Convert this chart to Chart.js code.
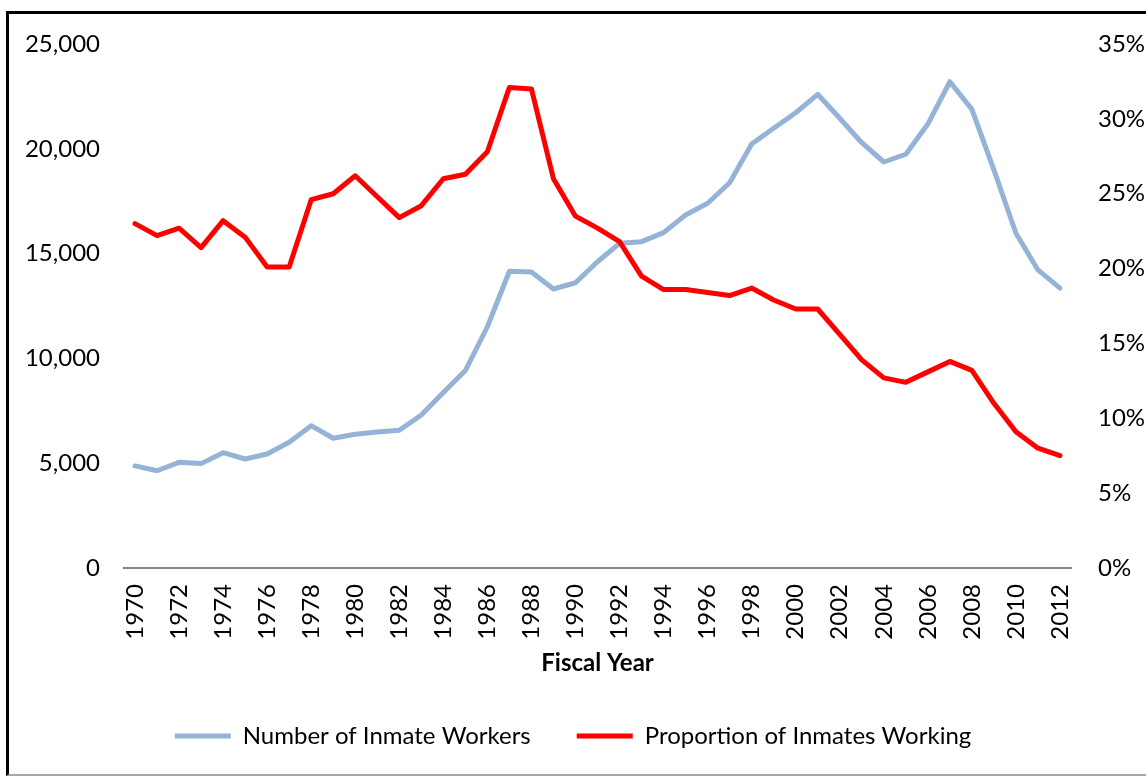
<!DOCTYPE html>
<html>
<head>
<meta charset="utf-8">
<script src="https://cdn.jsdelivr.net/npm/chart.js@4"></script>
<style>
  html, body { margin: 0; padding: 0; background: #fff; }
  #frame {
    position: absolute; left: 6px; top: 11px; width: 1200px; height: 760px;
    border-left: 3px solid #000; border-top: 3px solid #000; border-bottom: 2px solid #a6a6a6;
  }
  #wrap { position: absolute; left: 0; top: 0; width: 1146px; height: 776px; }
</style>
</head>
<body>
<div id="frame"></div>
<div id="wrap"><canvas id="chart" width="1146" height="776"></canvas></div>
<script>
const years = ['1970','1971','1972','1973','1974','1975','1976','1977','1978','1979',
  '1980','1981','1982','1983','1984','1985','1986','1987','1988','1989',
  '1990','1991','1992','1993','1994','1995','1996','1997','1998','1999',
  '2000','2001','2002','2003','2004','2005','2006','2007','2008','2009',
  '2010','2011','2012'];

const workers = [4870,4640,5040,4980,5500,5200,5440,6000,6790,6190,
  6380,6490,6570,7300,8370,9420,11510,14160,14120,13310,
  13610,14610,15490,15570,16000,16840,17400,18380,20230,20980,
  21720,22600,21460,20290,19370,19740,21180,23200,21880,18990,
  15970,14220,13350];

const proportion = [23.0,22.2,22.7,21.4,23.2,22.1,20.1,20.1,24.6,25.0,
  26.2,24.8,23.4,24.2,26.0,26.3,27.8,32.1,32.0,26.0,
  23.5,22.7,21.8,19.5,18.6,18.6,18.4,18.2,18.7,17.9,
  17.3,17.3,15.6,13.9,12.7,12.4,13.1,13.8,13.2,11.0,
  9.1,8.0,7.5];

const font = { family: 'Lato', size: 24 };

new Chart(document.getElementById('chart'), {
  type: 'line',
  data: {
    labels: years,
    datasets: [{
      label: 'Number of Inmate Workers',
      data: workers,
      yAxisID: 'y',
      borderColor: '#95b3d7',
      backgroundColor: '#95b3d7',
      borderWidth: 5,
      pointRadius: 0,
      borderJoinStyle: 'round',
      borderCapStyle: 'round',
      order: 1
    }, {
      label: 'Proportion of Inmates Working',
      data: proportion,
      yAxisID: 'y1',
      borderColor: '#ff0000',
      backgroundColor: '#ff0000',
      borderWidth: 5,
      pointRadius: 0,
      borderJoinStyle: 'round',
      borderCapStyle: 'round',
      order: 0
    }]
  },
  options: {
    responsive: false,
    animation: false,
    layout: { padding: { top: 44, bottom: 18, left: 0, right: 0 } },
    plugins: {
      tooltip: { enabled: false },
      legend: {
        position: 'bottom',
        labels: {
          color: '#000',
          font,
          boxWidth: 56,
          boxHeight: 5,
          padding: 46,
          generateLabels(chart) {
            return chart.data.datasets.map((ds, i) => ({
              text: ds.label,
              fillStyle: ds.borderColor,
              strokeStyle: ds.borderColor,
              lineWidth: 0,
              datasetIndex: i
            }));
          }
        }
      }
    },
    scales: {
      x: {
        offset: true,
        grid: { display: false },
        border: { display: true, color: '#868686', width: 2 },
        ticks: {
          color: '#000',
          font,
          autoSkip: false,
          minRotation: 90,
          maxRotation: 90,
          padding: 8,
          callback(v, i) { return i % 2 === 0 ? years[i] : ''; }
        },
        title: {
          display: true,
          text: 'Fiscal Year',
          color: '#000',
          font: { family: 'Lato', size: 24, weight: 'bold' },
          padding: { top: 2, bottom: 0 }
        },
        afterFit(s) { s.height = 110; }
      },
      y: {
        position: 'left',
        min: 0,
        max: 25000,
        grid: { display: false },
        border: { display: false },
        ticks: {
          stepSize: 5000,
          color: '#000',
          font,
          padding: 16,
          callback(v) { return v.toLocaleString('en-US'); }
        },
        afterFit(s) { s.width = 124; }
      },
      y1: {
        position: 'right',
        min: 0,
        max: 35,
        grid: { display: false },
        border: { display: false },
        ticks: {
          stepSize: 5,
          color: '#000',
          font,
          padding: 19,
          callback(v) { return v + '%'; }
        },
        afterFit(s) { s.width = 75; }
      }
    }
  }
});
</script>
</body>
</html>
